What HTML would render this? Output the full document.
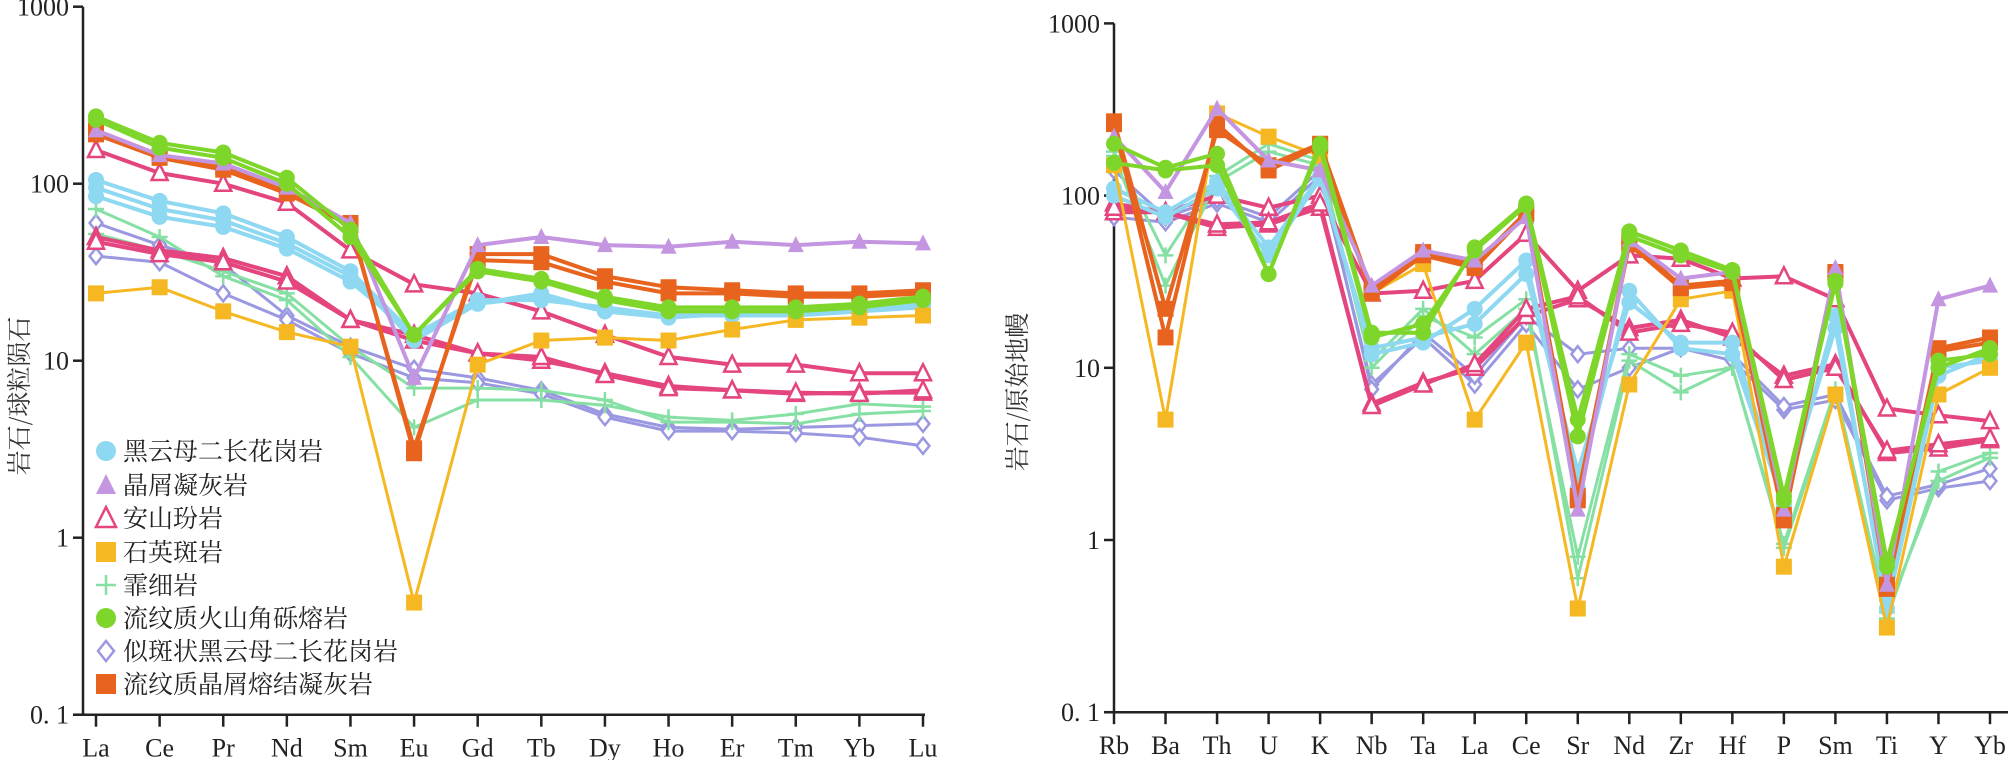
<!DOCTYPE html>
<html><head><meta charset="utf-8">
<style>
html,body{margin:0;padding:0;background:#fff;}
svg{display:block;font-family:"Liberation Serif","Noto Serif CJK SC",serif;}
</style></head>
<body>
<svg id="c" width="2008" height="760" viewBox="0 0 2008 760" xmlns="http://www.w3.org/2000/svg"></svg>
<script>
const reeCats=["La","Ce","Pr","Nd","Sm","Eu","Gd","Tb","Dy","Ho","Er","Tm","Yb","Lu"];
const traceCats=["Rb","Ba","Th","U","K","Nb","Ta","La","Ce","Sr","Nd","Zr","Hf","P","Sm","Ti","Y","Yb"];
const yTicks=[1000,100,10,1,0.1];
const yTickLabels=["1000","100","10","1","0. 1"];
const seriesNames=["黑云母二长花岗岩","晶屑凝灰岩","安山玢岩","石英斑岩","霏细岩","流纹质火山角砾熔岩","似斑状黑云母二长花岗岩","流纹质晶屑熔结凝灰岩"];
const seriesColors=["#8ed8f2","#c495e0","#e4457f","#f5b822","#86e0a4","#7ed62a","#9a98e0","#e8641e"];
const seriesMarkers=["circle","tri","otri","square","plus","circle","diamond","square"];
// REE (chondrite normalized), each series has samples
const reeBiotite=[[105,80,68,50,32,14,21,24,19,18,19,19,19,21],[85,65,57,43,28,14,22,22,20,18,18,18,19,21],[95,72,62,46,30,13,21,23,19,17.5,18.5,18.5,19,20]];
const reeTuff=[[200,145,130,95,60,8,45,50,45,44,47,45,47,46]];
const reeAndesite=[[155,115,100,78,42,27,24,19,14,10.5,9.5,9.5,8.5,8.5],[50,42,38,30,17,13,11,10,8.5,7.2,6.8,6.5,6.6,6.6],[47,40,36,28,17,14,11,10.5,8.3,7,6.8,6.6,6.5,6.8]];
const reeQuartz=[[24,26,19,14.5,12,0.43,9.5,13,13.5,13,15,17,17.5,18]];
const reeFelsite=[[72,50,30,22,10.5,4.2,6,6,5.6,4.8,4.6,5,5.7,5.5],[52,42,32,24,12,7,7,6.8,6,4.5,4.5,4.4,5,5.2]];
const reeRhyBreccia=[[240,170,150,108,55,14,33,29,23,20,20,20,21,23],[230,160,140,100,50,14,32,28,22,19,19,19,20,22]];
const reePorph=[[60,45,35,18,12,9,8,6.8,5,4.2,4.1,4.2,4.3,4.4],[39,36,24,17,11,8,7.5,6.5,4.8,4,4,3.9,3.7,3.3]];
const reeRhyTuff=[[200,145,125,90,60,3,40,40,30,26,25,24,24,25],[190,140,120,88,58,3.2,37,36,28,24,24,23,23,24]];
// Trace (primitive mantle normalized)
const trBiotite=[[110,80,120,50,130,12,14,22,42,2,28,13,12,1.6,20,0.4,9,12],[100,75,110,45,125,13,15,18,35,2.5,24,14,14,1.8,17,0.45,10,11]];
const trTuff=[[220,105,320,160,140,30,48,42,75,1.5,55,33,36,1.5,38,0.55,25,30]];
const trAndesite=[[90,80,100,85,100,27,28,32,60,28,45,43,33,34,25,5.8,5.3,4.9],[80,80,65,68,85,6.2,8.2,10,20,25,17,19,15,9,10.5,3.2,3.4,3.8],[85,80,68,70,90,6,8,10.5,22,26,16,18,16,8.5,10,3.3,3.6,3.9]];
const trQuartz=[[150,5,300,220,170,27,40,5,14,0.4,8,25,28,0.7,7,0.31,7,10]];
const trFelsite=[[180,45,130,200,160,10,20,15,25,0.6,11,7.2,10,0.9,7,0.35,2.5,3.2],[170,30,120,180,150,11,22,12,22,0.8,12,9,10,0.95,7.5,0.38,2.2,3]];
const trRhyBreccia=[[200,145,175,35,200,16,16,50,90,5,62,48,37,1.8,32,0.75,10,13],[155,140,150,35,190,15,18,48,88,4,58,45,36,1.7,31,0.7,11,12]];
const trPorph=[[75,70,90,70,130,8,15,8,18,7.5,10,13,11,5.7,6.5,1.7,2,2.2],[140,75,95,75,140,7.5,16,9,20,12,13,13,12,6,7,1.8,2.1,2.6]];
const trRhyTuff=[[270,22,240,150,200,28,47,40,80,1.7,55,30,32,1.3,36,0.55,13,15],[260,15,260,140,195,27,45,38,78,1.8,52,29,31,1.4,35,0.52,12.5,14]];

const reeData=[reeBiotite,reeTuff,reeAndesite,reeQuartz,reeFelsite,reeRhyBreccia,reePorph,reeRhyTuff];
const trData=[trBiotite,trTuff,trAndesite,trQuartz,trFelsite,trRhyBreccia,trPorph,trRhyTuff];
const drawOrder=[6,4,2,0,3,7,1,5];

const svg=document.getElementById('c');
const NS="http://www.w3.org/2000/svg";
function mk(tag,attrs,parent){const e=document.createElementNS(NS,tag);for(const k in attrs)e.setAttribute(k,attrs[k]);(parent||svg).appendChild(e);return e;}

const panels=[
 {cats:reeCats,data:reeData,ax:83,x0:96,x1:923,y1v:537.7,dec:177,xEnd:925,title:"岩石/球粒陨石",tx:18,ty:396,name:"ree"},
 {cats:traceCats,data:trData,ax:1114,x0:1114,x1:1990,y1v:540,dec:172.2,xEnd:2008,title:"岩石/原始地幔",tx:1016,ty:392,name:"trace"}
];

panels.forEach(p=>{
  const g=mk('g',{});
  
  
  const xs=i=>p.x0+(p.x1-p.x0)*i/(p.cats.length-1);
  const ys=v=>p.y1v-p.dec*Math.log10(v);
  const yTop=ys(1000),yBot=ys(0.1);
  const ya=mk('line',{x1:p.ax,y1:yTop,x2:p.ax,y2:yBot,stroke:"#222","stroke-width":2.5},g);
  
  const xa=mk('line',{x1:p.ax-10,y1:yBot,x2:p.xEnd,y2:yBot,stroke:"#222","stroke-width":2.5},g);
  
  yTicks.forEach((t,i)=>{
    mk('line',{x1:p.ax-10,y1:ys(t),x2:p.ax,y2:ys(t),stroke:"#222","stroke-width":2.5},g);
    const tl=mk('text',{x:p.ax-14,y:ys(t)+9,"text-anchor":"end","font-size":26,fill:"#222"},g);
    tl.textContent=yTickLabels[i];
    
  });
  p.cats.forEach((c,i)=>{
    mk('line',{x1:xs(i),y1:yBot,x2:xs(i),y2:yBot+12,stroke:"#222","stroke-width":2.5},g);
    const cl=mk('text',{x:xs(i),y:yBot+42,"text-anchor":"middle","font-size":26,fill:"#222"},g);
    cl.textContent=c;
    
  });
  const yt=mk('text',{x:p.tx,y:p.ty,"text-anchor":"middle","font-size":25,fill:"#333",transform:`rotate(-90 ${p.tx} ${p.ty})`,"font-family":"'Noto Serif CJK SC',serif","dominant-baseline":"central"},g);
  yt.textContent=p.title;
  
  drawOrder.forEach(s=>{
    p.data[s].forEach(sample=>{
      const pts=sample.map((v,i)=>xs(i).toFixed(1)+","+ys(v).toFixed(1)).join(" ");
      const pl=mk('polyline',{points:pts,fill:"none",stroke:seriesColors[s],"stroke-width":s==3||s==4||s==6?3:4,"stroke-linejoin":"round"},g);
      
      sample.forEach((v,i)=>{
        const m=marker(seriesMarkers[s],xs(i),ys(v),seriesColors[s],8,g);
        
      });
    });
  });
});

function marker(type,x,y,col,r,parent){
  if(type=="circle")return mk('circle',{cx:x,cy:y,r:r,fill:col},parent);
  if(type=="square")return mk('rect',{x:x-r,y:y-r,width:2*r,height:2*r,fill:col},parent);
  if(type=="tri")return mk('polygon',{points:`${x},${y-r-1} ${x-r},${y+r-1} ${x+r},${y+r-1}`,fill:col},parent);
  if(type=="otri")return mk('polygon',{points:`${x},${y-r-1} ${x-r},${y+r-1} ${x+r},${y+r-1}`,fill:"#fff",stroke:col,"stroke-width":2.5},parent);
  if(type=="diamond")return mk('polygon',{points:`${x},${y-r} ${x+r*0.8},${y} ${x},${y+r} ${x-r*0.8},${y}`,fill:"#fff",stroke:col,"stroke-width":2.5},parent);
  if(type=="plus")return mk('path',{d:`M${x-r} ${y}H${x+r}M${x} ${y-r}V${y+r}`,stroke:col,"stroke-width":2.5,fill:"none"},parent);
}

const legendY=[451,485,518,552,585,618,651,684];
const lg=mk('g',{});


seriesNames.forEach((n,i)=>{
  const e=mk('g',{},lg);
  
  
  marker(seriesMarkers[i],106,legendY[i],seriesColors[i],10,e);
  const t=mk('text',{x:123,y:legendY[i]+9,"font-size":25,fill:"#222","font-family":"'Noto Serif CJK SC',serif"},e);
  t.textContent=n;
});
</script>
</body></html>
